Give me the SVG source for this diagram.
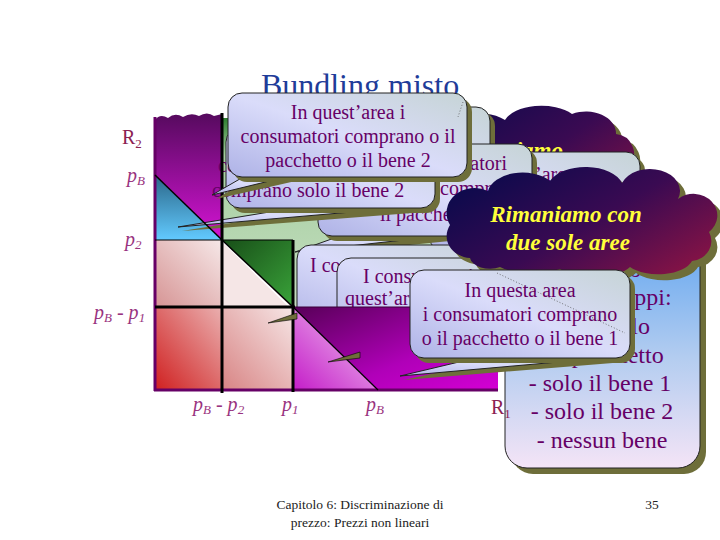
<svg xmlns="http://www.w3.org/2000/svg" width="720" height="540" viewBox="0 0 720 540">
<style>
.box{fill:url(#lav);stroke:#222;stroke-width:1}
.sh{fill:#6e6e3a}
.ct{font-family:"Liberation Serif",serif;font-size:20px;fill:#660066}
.bt{font-family:"Liberation Serif",serif;font-size:24px;fill:#660066;text-anchor:middle}
.lbl{font-family:"Liberation Serif",serif;font-style:italic;font-size:20px;fill:#993380}
.rl{font-family:"Liberation Serif",serif;font-size:20px;fill:#8b2252}
.cl{font-family:"Liberation Serif",serif;font-style:italic;font-weight:bold;font-size:23px;fill:#ffff3a;text-anchor:middle}
.ft{font-family:"Liberation Serif",serif;font-size:13.5px;fill:#222;text-anchor:middle}
.bl{stroke:#000;stroke-width:3;fill:none}
</style>
<defs>
<linearGradient id="lav" x1="0" y1="1" x2="1" y2="0">
<stop offset="0" stop-color="#aeb2e6"/><stop offset="0.5" stop-color="#dadcfa"/><stop offset="1" stop-color="#c6d4d6"/>
</linearGradient>
<linearGradient id="cloud" x1="0" y1="0.2" x2="1" y2="0.9">
<stop offset="0" stop-color="#0a0a4c"/><stop offset="0.5" stop-color="#3a0a52"/><stop offset="1" stop-color="#8e1444"/>
</linearGradient>
<linearGradient id="blue" x1="0" y1="0" x2="0" y2="1">
<stop offset="0" stop-color="#5aa2f0"/><stop offset="0.55" stop-color="#b4cdf0"/><stop offset="1" stop-color="#f4e4f6"/>
</linearGradient>
<linearGradient id="purTop" x1="0" y1="0" x2="0" y2="1">
<stop offset="0" stop-color="#560a5e"/><stop offset="1" stop-color="#d414d4"/>
</linearGradient>
<linearGradient id="blueTri" x1="0" y1="0" x2="0" y2="1">
<stop offset="0" stop-color="#2a6688"/><stop offset="1" stop-color="#62caff"/>
</linearGradient>
<linearGradient id="pink" x1="0" y1="1" x2="1" y2="0">
<stop offset="0" stop-color="#d69494"/><stop offset="1" stop-color="#f6e8e8"/>
</linearGradient>
<linearGradient id="red" x1="0" y1="1" x2="1" y2="0">
<stop offset="0" stop-color="#d02020"/><stop offset="1" stop-color="#eab0b0"/>
</linearGradient>
<linearGradient id="pink2" x1="0" y1="1" x2="1" y2="0">
<stop offset="0" stop-color="#d88484"/><stop offset="1" stop-color="#f6e6e6"/>
</linearGradient>
<linearGradient id="green" x1="0" y1="0" x2="0" y2="1">
<stop offset="0" stop-color="#2e7e30"/><stop offset="0.2" stop-color="#a6cea0"/><stop offset="1" stop-color="#c4dec0"/>
</linearGradient>
<linearGradient id="dkgreen" x1="0" y1="0" x2="1" y2="1">
<stop offset="0" stop-color="#184e18"/><stop offset="1" stop-color="#3aa43a"/>
</linearGradient>
<linearGradient id="magLo" x1="1" y1="0" x2="0" y2="1">
<stop offset="0" stop-color="#f4d0f4"/><stop offset="1" stop-color="#c41cc8"/>
</linearGradient>
<linearGradient id="magHi" x1="0" y1="0" x2="1" y2="1">
<stop offset="0" stop-color="#580058"/><stop offset="0.6" stop-color="#b000b8"/><stop offset="1" stop-color="#d400d4"/>
</linearGradient>
</defs>

<rect width="720" height="540" fill="#fff"/>

<g id="graph-regions">
<rect x="222" y="118" width="278" height="189" fill="url(#green)"/>
<path d="M155,120 Q160,113 168,118 Q175,112 183,117 Q191,112 199,116 Q207,111 214,116 L222,114 L222,240 L155,175 Z" fill="url(#purTop)"/>
<polygon points="155,175 222,240 155,240" fill="url(#blueTri)"/>
<rect x="155" y="240" width="67" height="67" fill="url(#pink)"/>
<polygon points="222,240 293,240 293,307" fill="url(#dkgreen)"/>
<polygon points="222,240 293,307 222,307" fill="#f5e6e6"/>
<rect x="155" y="307" width="67" height="83" fill="url(#red)"/>
<rect x="222" y="307" width="71" height="83" fill="url(#pink2)"/>
</g>

<g id="title">
<text x="360" y="96" font-family="Liberation Serif, serif" font-size="32" fill="#1f3c99" text-anchor="middle">Bundling misto</text>
</g>

<g id="cloud-back">
<path d="M426,210 A22,20 0 0 1 410,176 A28,22 0 0 1 446,140 A35,22 0 0 1 505,120 A38,20 0 0 1 572,114 A30,22 0 0 1 616,134 A20,20 0 0 1 630,166 A22,20 0 0 1 610,202 A40,18 0 0 1 535,212 A40,16 0 0 1 465,214 A20,12 0 0 1 426,210 Z" class="sh" transform="translate(6,6)"/>
<path d="M426,210 A22,20 0 0 1 410,176 A28,22 0 0 1 446,140 A35,22 0 0 1 505,120 A38,20 0 0 1 572,114 A30,22 0 0 1 616,134 A20,20 0 0 1 630,166 A22,20 0 0 1 610,202 A40,18 0 0 1 535,212 A40,16 0 0 1 465,214 A20,12 0 0 1 426,210 Z" fill="url(#cloud)"/>
<text class="cl" x="563" y="158" style="text-anchor:end">Rimaniamo</text>
</g>

<g id="box-b5">
<rect class="sh" x="305" y="112" width="190" height="93" rx="14"/>
<rect class="box" x="300" y="107" width="190" height="93" rx="14"/>
</g>

<g id="box-b4">
<rect class="sh" x="435" y="157" width="210" height="100" rx="14"/>
<rect class="box" x="430" y="152" width="210" height="100" rx="14"/>
<text class="ct" x="575" y="181" text-anchor="end">In quest’area</text>
</g>

<g id="box-b3">
<polygon class="sh" points="340,240 460,240 298,256"/>
<polygon class="box" points="340,236 440,236 295,252"/>
<rect class="sh" x="323" y="149" width="214" height="92" rx="14"/>
<rect class="box" x="318" y="144" width="214" height="92" rx="14"/>
<text class="ct" x="507" y="170" text-anchor="end">In quest’area i consumatori</text>
<text class="ct" x="440" y="195">comprano</text>
<text class="ct" x="380" y="221">il pacchetto</text>
</g>

<g id="box-b2">
<polygon class="sh" points="300,212 425,212 182,231"/>
<polygon class="box" points="300,207 410,207 178,227"/>
<rect class="sh" x="231" y="133" width="209" height="80" rx="14"/>
<rect class="box" x="226" y="128" width="209" height="80" rx="14"/>
<text class="ct" x="218" y="172">consumatori</text>
<text class="ct" x="212" y="197">comprano solo il bene 2</text>
</g>

<g id="box-b6">
<rect class="sh" x="302" y="250" width="220" height="90" rx="14"/>
<rect class="box" x="297" y="245" width="220" height="90" rx="14"/>
<text class="ct" x="310" y="272">I consumatori in quest’area</text>
</g>

<g id="box-b7">
<rect class="sh" x="342" y="263" width="200" height="90" rx="14"/>
<rect class="box" x="337" y="258" width="200" height="90" rx="14"/>
<text class="ct" x="363" y="283">I consumatori in</text>
<text class="ct" x="345" y="305">quest’area comprano</text>
</g>

<g id="graph-region-bottom">
<polygon points="293,307 293,390 378,390" fill="url(#magLo)"/>
<polygon points="293,307 498,307 498,390 378,390" fill="url(#magHi)"/>
<line x1="293" y1="307" x2="498" y2="307" stroke="#3a003a" stroke-width="1"/>
</g>

<g id="graph-lines">
<line x1="155" y1="117" x2="155" y2="391" stroke="#660066" stroke-width="3"/>
<line x1="154" y1="390" x2="498" y2="390" stroke="#660066" stroke-width="3"/>
<line x1="155" y1="240" x2="293" y2="240" stroke="#000" stroke-width="1.2"/>
<line x1="155" y1="175" x2="222" y2="240" stroke="#000" stroke-width="1.5"/>
<line x1="223" y1="242" x2="292" y2="309" stroke="#fff" stroke-width="1.5"/>
<line x1="222" y1="240" x2="293" y2="307" stroke="#000" stroke-width="1.5"/>
<line x1="293" y1="307" x2="378" y2="390" stroke="#000" stroke-width="1.2"/>
<line class="bl" x1="222" y1="113" x2="222" y2="393"/>
<line class="bl" x1="155" y1="307" x2="295" y2="307"/>
<line class="bl" x1="293" y1="240" x2="293" y2="392"/>
</g>

<g id="small-tails">
<polygon points="268,323 297,313 297,319" fill="#6e6e3a" stroke="#000" stroke-width="0.6"/>
<polygon points="328,362 360,352 360,358" fill="#6e6e3a" stroke="#000" stroke-width="0.6"/>
</g>

<g id="box-info">
<rect class="sh" x="511" y="231" width="195" height="243" rx="22"/>
<rect x="505" y="225" width="195" height="243" rx="22" fill="url(#blue)" stroke="#222" stroke-width="1"/>
<text class="bt" x="603" y="248">I consumatori</text>
<text class="bt" x="600" y="277">si dividono in</text>
<text class="bt" x="600" y="305">quattro gruppi:</text>
<text class="bt" x="650" y="334" style="text-anchor:end">- solo</text>
<text class="bt" x="608" y="363">il pacchetto</text>
<text class="bt" x="600" y="391">- solo il bene 1</text>
<text class="bt" x="602" y="419">- solo il bene 2</text>
<text class="bt" x="602" y="448">- nessun bene</text>
</g>

<g id="box-1">
<polygon class="sh" points="248,180 300,180 216,199"/>
<polygon class="box" points="245,176 290,176 212,195"/>
<rect class="sh" x="233" y="98" width="239" height="84" rx="14"/>
<rect class="box" x="228" y="93" width="239" height="84" rx="14"/>
<line x1="463" y1="102" x2="458" y2="117" stroke="#555" stroke-width="0.8" stroke-dasharray="1,2"/>
<text class="ct" x="348" y="119" text-anchor="middle">In quest’area i</text>
<text class="ct" x="348" y="143" text-anchor="middle">consumatori comprano o il</text>
<text class="ct" x="348" y="167" text-anchor="middle">pacchetto o il bene 2</text>
</g>

<g id="cloud-front">
<path d="M470,258 A25,22 0 0 1 450,225 A28,25 0 0 1 488,191 A35,22 0 0 1 550,181 A38,22 0 0 1 622,183 A30,22 0 0 1 678,199 A22,20 0 0 1 709,232 A22,20 0 0 1 692,261 A35,18 0 0 1 630,267 A40,18 0 0 1 560,269 A40,16 0 0 1 500,267 A20,12 0 0 1 470,258 Z" class="sh" transform="translate(6,6)"/>
<path d="M470,258 A25,22 0 0 1 450,225 A28,25 0 0 1 488,191 A35,22 0 0 1 550,181 A38,22 0 0 1 622,183 A30,22 0 0 1 678,199 A22,20 0 0 1 709,232 A22,20 0 0 1 692,261 A35,18 0 0 1 630,267 A40,18 0 0 1 560,269 A40,16 0 0 1 500,267 A20,12 0 0 1 470,258 Z" fill="url(#cloud)"/>
<text class="cl" x="566" y="222">Rimaniamo con</text>
<text class="cl" x="568" y="250">due sole aree</text>
</g>

<g id="box-8">
<polygon class="sh" points="485,362 625,362 404,380"/>
<polygon class="box" points="480,357 615,357 400,376"/>
<rect class="sh" x="415" y="275" width="220" height="88" rx="14"/>
<rect class="box" x="410" y="270" width="220" height="88" rx="14"/>
<line x1="497" y1="273" x2="625" y2="333" stroke="#555" stroke-width="0.8" stroke-dasharray="1,2"/>
<text class="ct" x="520" y="297" text-anchor="middle">In questa area</text>
<text class="ct" x="520" y="321" text-anchor="middle">i consumatori comprano</text>
<text class="ct" x="520" y="345" text-anchor="middle">o il pacchetto o il bene 1</text>
</g>

<g id="labels">
<text class="rl" x="122" y="144">R<tspan font-size="13" dy="4">2</tspan></text>
<text class="lbl" x="127" y="182">p<tspan font-size="13" dy="3">B</tspan></text>
<text class="lbl" x="125" y="246">p<tspan font-size="13" dy="3">2</tspan></text>
<text class="lbl" x="94" y="319">p<tspan font-size="13" dy="3">B</tspan><tspan dy="-3"> - p</tspan><tspan font-size="13" dy="3">1</tspan></text>
<text class="lbl" x="193" y="411">p<tspan font-size="13" dy="3">B</tspan><tspan dy="-3"> - p</tspan><tspan font-size="13" dy="3">2</tspan></text>
<text class="lbl" x="282" y="411">p<tspan font-size="13" dy="3">1</tspan></text>
<text class="lbl" x="366" y="411">p<tspan font-size="13" dy="3">B</tspan></text>
<text class="rl" x="491" y="414">R<tspan font-size="13" dy="4">1</tspan></text>
</g>

<g id="footer">
<text class="ft" x="360" y="509">Capitolo 6: Discriminazione di</text>
<text class="ft" x="360" y="527">prezzo: Prezzi non lineari</text>
<text class="ft" x="652" y="509">35</text>
</g>
</svg>
